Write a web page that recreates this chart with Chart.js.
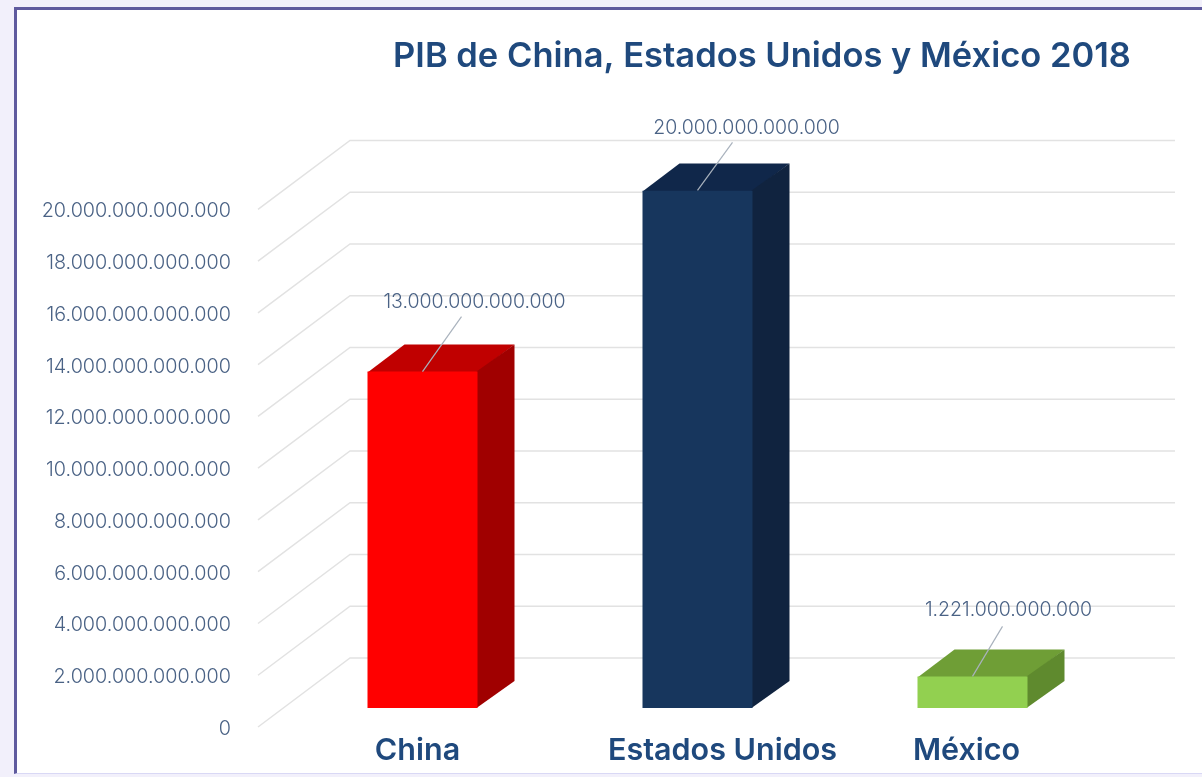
<!DOCTYPE html>
<html lang="es">
<head>
<meta charset="utf-8">
<title>PIB de China, Estados Unidos y México 2018</title>
<script src="https://cdn.jsdelivr.net/npm/chart.js@4"></script>
<style>
  html, body { margin: 0; padding: 0; background: #f2f0fb; overflow: hidden; }
  #frame {
    position: absolute; left: 14px; top: 7px; width: 1190px; height: 767px;
    background: #fff; border-top: 3px solid #5f5a9e; border-left: 3px solid #5f5a9e;
    border-bottom: 1px solid #d9d8f5; box-sizing: border-box;
  }
  #pib { position: absolute; left: 0; top: 0; }
</style>
</head>
<body>
<div id="frame"></div>
<canvas id="pib" width="1202" height="777"></canvas>
<script>
// Data
const categories = ['China', 'Estados Unidos', 'México'];
const pibValues = [13000000000000, 20000000000000, 1221000000000];
const axisMax = 20000000000000;
const axisStep = 2000000000000;

// Bar faces
const frontColors = ['#ff0000', '#17365d', '#92d050'];
const topColors = ['#c00000', '#10274a', '#6f9e36'];
const sideColors = ['#a00000', '#10233f', '#5f8a2e'];

// Pseudo 3D settings
const plotBottom = 727;
const wallDepth = { x: 92, y: -69 };
const barDepth = { x: 37, y: -27 };
const barShiftY = -19;
const gridLeftGap = 27;
const gridRightEnd = 1175;

// Label placement relative to the top centre of each bar
const leaderEnds = [[39, -55], [35, -48], [30, -50]];
const valueLabelOffsets = [[52, -69], [49, -62], [36, -66]];
const categoryOffsets = [-5, 25, -6];
const categoryLabelY = 751;

const textColor = '#4a6285';
const titleColor = '#1f497d';

function formatNumber(v) {
  return new Intl.NumberFormat('de-DE').format(v);
}

function fillPoly(ctx, color, pts) {
  ctx.fillStyle = color;
  ctx.beginPath();
  pts.forEach((p, i) => i ? ctx.lineTo(p[0], p[1]) : ctx.moveTo(p[0], p[1]));
  ctx.closePath();
  ctx.fill();
}

const fake3d = {
  id: 'fake3d',
  afterLayout(chart) {
    // title sits over the plot, not the whole canvas
    chart.titleBlock.left = 322;
    chart.titleBlock.right = 1202;
    // layout stops short of the reference baseline, so stretch the value axis
    const y = chart.scales.y;
    y.bottom = plotBottom;
    y.height = y.bottom - y.top;
    y.configure();
    chart.chartArea.bottom = plotBottom;
    chart.chartArea.height = plotBottom - chart.chartArea.top;
  },
  beforeDatasetsDraw(chart) {
    const { ctx, chartArea, scales } = chart;
    ctx.save();
    ctx.strokeStyle = '#e2e2e2';
    ctx.lineWidth = 1.5;
    scales.y.ticks.forEach(t => {
      const y = scales.y.getPixelForValue(t.value);
      const x0 = chartArea.left - gridLeftGap;
      ctx.beginPath();
      ctx.moveTo(x0, y);
      ctx.lineTo(x0 + wallDepth.x, y + wallDepth.y);
      ctx.lineTo(gridRightEnd, y + wallDepth.y);
      ctx.stroke();
    });
    ctx.restore();
  },
  beforeDatasetDraw(chart) {
    const { ctx } = chart;
    ctx.save();
    ctx.translate(0, barShiftY);
    chart.getDatasetMeta(0).data.forEach((bar, i) => {
      const l = bar.x - bar.width / 2;
      const r = bar.x + bar.width / 2;
      const dx = barDepth.x;
      const dy = barDepth.y;
      // faces run 1px under the front so no seam shows
      fillPoly(ctx, topColors[i], [[l, bar.y + 1], [r, bar.y + 1], [r + dx, bar.y + dy], [l + dx, bar.y + dy]]);
      fillPoly(ctx, sideColors[i], [[r - 1, bar.y], [r + dx, bar.y + dy], [r + dx, bar.base + dy], [r - 1, bar.base]]);
    });
  },
  afterDatasetDraw(chart) {
    chart.ctx.restore();
  },
  afterDatasetsDraw(chart) {
    const { ctx } = chart;
    ctx.save();
    ctx.textAlign = 'center';
    ctx.textBaseline = 'middle';
    chart.getDatasetMeta(0).data.forEach((bar, i) => {
      const topY = bar.y + barShiftY;
      ctx.strokeStyle = '#a9b2bd';
      ctx.lineWidth = 1.2;
      ctx.beginPath();
      ctx.moveTo(bar.x, topY);
      ctx.lineTo(bar.x + leaderEnds[i][0], topY + leaderEnds[i][1]);
      ctx.stroke();

      ctx.fillStyle = textColor;
      ctx.font = '300 19.5px Inter';
      ctx.fillText(formatNumber(pibValues[i]), bar.x + valueLabelOffsets[i][0], topY + valueLabelOffsets[i][1]);

      ctx.fillStyle = titleColor;
      ctx.font = '600 30.5px Inter';
      ctx.fillText(categories[i], bar.x + categoryOffsets[i], categoryLabelY);
    });
    ctx.restore();
  }
};

new Chart(document.getElementById('pib'), {
  type: 'bar',
  data: {
    labels: categories,
    datasets: [{
      label: 'PIB 2018',
      data: pibValues,
      backgroundColor: frontColors,
      barPercentage: 0.4,
      categoryPercentage: 1
    }]
  },
  options: {
    responsive: false,
    animation: false,
    layout: { padding: { left: 0, right: 92, top: 0, bottom: 50 } },
    plugins: {
      legend: { display: false },
      tooltip: { enabled: false },
      title: {
        display: true,
        text: 'PIB de China, Estados Unidos y México 2018',
        color: titleColor,
        font: { family: 'Inter', size: 34.5, weight: '600', lineHeight: 1.2 },
        padding: { top: 36, bottom: 132 }
      }
    },
    scales: {
      x: { display: false },
      y: {
        min: 0,
        max: axisMax,
        grid: { display: false },
        border: { display: false },
        afterFit(scale) { scale.width = 285; },
        ticks: {
          stepSize: axisStep,
          padding: 46,
          labelOffset: 2,
          color: textColor,
          font: { family: 'Inter', size: 19.8, weight: '300' },
          callback: v => formatNumber(v)
        }
      }
    }
  },
  plugins: [fake3d]
});
</script>
</body>
</html>
